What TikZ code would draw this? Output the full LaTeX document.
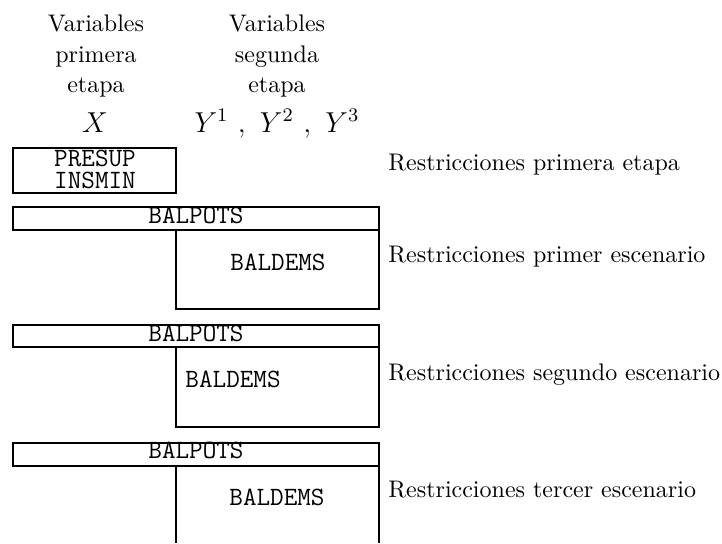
\documentclass[tikz,border=0pt]{standalone}
\usepackage{fontspec}
\begin{document}
\begin{tikzpicture}[x=0.41667pt,y=-0.41667pt,
  box/.style={line width=0.8pt},
  rmtxt/.style={font=\fontsize{10}{12}\selectfont, inner sep=0pt, anchor=base},
  lbl/.style={font=\fontsize{10}{12}\selectfont, inner sep=0pt, anchor=base west},
  mtxt/.style={font=\fontsize{12}{14}\selectfont, inner sep=0pt, anchor=base},
  tttxt/.style={font=\fontsize{11}{8}\selectfont\ttfamily, inner sep=0pt, anchor=base}]
\useasboundingbox (0,0) rectangle (722,543);
% headers
\node[rmtxt] (h1a) at (96,31) {Variables};
\node[rmtxt] (h1b) at (96,62) {primera};
\node[rmtxt] (h1c) at (96,92) {etapa};
\node[mtxt] (h1x) at (95,132) {$X$};
\node[rmtxt] (h2a) at (277,31) {Variables};
\node[rmtxt] (h2b) at (277,62) {segunda};
\node[rmtxt] (h2c) at (277,92) {etapa};
\node[mtxt] (h2y) at (277,132) {$Y^1\ ,\ Y^2\ ,\ Y^3$};
% first stage box
\draw[box] (13,148) rectangle (176,193);
\node[font=\fontsize{11}{9.2}\selectfont\ttfamily, inner sep=0pt, align=center]
  (pres) at (95,169.5) {PRESUP\\INSMIN};
% scenario 1
\draw[box] (13,207) rectangle (379,230);
\draw[box] (176,230) rectangle (379,309);
\node[tttxt] (bp1) at (196,223) {BALPOTS};
\node[tttxt] (bd1) at (278,270) {BALDEMS};
% scenario 2
\draw[box] (13,325) rectangle (379,347);
\draw[box] (176,347) rectangle (379,427);
\node[tttxt] (bp2) at (196,341) {BALPOTS};
\node[tttxt, anchor=base west] (bd2) at (185,387) {BALDEMS};
% scenario 3
\draw[box] (13,443) rectangle (379,466);
\draw[box] (176,543) -- (176,466) -- (379,466) -- (379,543);
\node[tttxt] (bp3) at (196,458) {BALPOTS};
\node[tttxt] (bd3) at (277,505) {BALDEMS};
% labels
\node[lbl] (l0) at (388,170) {Restricciones primera etapa};
\node[lbl] (l1) at (388,262) {Restricciones primer escenario};
\node[lbl] (l2) at (388,380) {Restricciones segundo escenario};
\node[lbl] (l3) at (388,497) {Restricciones tercer escenario};
\end{tikzpicture}
\end{document}
